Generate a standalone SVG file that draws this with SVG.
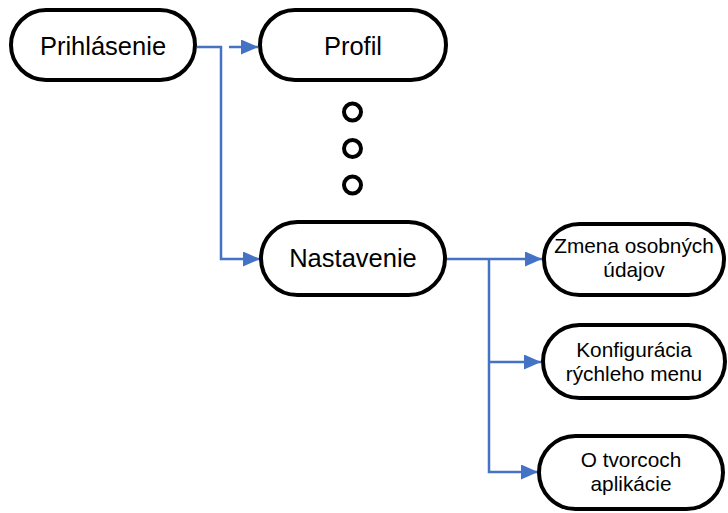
<svg xmlns="http://www.w3.org/2000/svg" width="728" height="513" viewBox="0 0 728 513">
  <defs>
    <marker id="arrow" markerWidth="17" markerHeight="15" refX="17" refY="7.5" orient="auto" markerUnits="userSpaceOnUse">
      <path d="M0,0 L17,7.5 L0,15 Z" fill="#4472C4"/>
    </marker>
    <style>
      .node { fill: #ffffff; stroke: #000000; stroke-width: 4; }
      .dot { fill: #ffffff; stroke: #000000; stroke-width: 4; }
      .link { fill: none; stroke: #4472C4; stroke-width: 2.5; }
      .big { font-family: "Liberation Sans", Arial, sans-serif; font-size: 25.5px; fill: #000; text-anchor: middle; }
      .small { font-family: "Liberation Sans", Arial, sans-serif; font-size: 20.8px; fill: #000; text-anchor: middle; }
    </style>
  </defs>
  <rect width="728" height="513" fill="#ffffff"/>

  <g id="connectors">
    <path class="link" d="M197,47 H221 V259 H260" marker-end="url(#arrow)"/>
    <path class="link" d="M229,47 H258" marker-end="url(#arrow)"/>
    <path class="link" d="M447,259 H542" marker-end="url(#arrow)"/>
    <path class="link" d="M489,259 V472 H538" marker-end="url(#arrow)"/>
    <path class="link" d="M489,362 H541" marker-end="url(#arrow)"/>
  </g>

  <g id="prihlasenie">
    <rect class="node" x="11" y="10" width="184" height="70" rx="35"/>
    <text class="big" x="103" y="55">Prihlásenie</text>
  </g>

  <g id="profil">
    <rect class="node" x="260" y="10" width="186" height="70" rx="35"/>
    <text class="big" x="353" y="55">Profil</text>
  </g>

  <g id="ellipsis">
    <circle class="dot" cx="352.5" cy="112" r="8.5"/>
    <circle class="dot" cx="352.5" cy="148.5" r="8.5"/>
    <circle class="dot" cx="352.5" cy="185" r="8.5"/>
  </g>

  <g id="nastavenie">
    <rect class="node" x="261" y="222" width="184" height="73" rx="36.5"/>
    <text class="big" x="353" y="267">Nastavenie</text>
  </g>

  <g id="zmena">
    <rect class="node" x="544" y="224" width="180" height="71" rx="35.5"/>
    <text class="small" x="634" y="253">Zmena osobných</text>
    <text class="small" x="634" y="277">údajov</text>
  </g>

  <g id="konfiguracia">
    <rect class="node" x="543" y="325" width="182" height="73" rx="36.5"/>
    <text class="small" x="634" y="357">Konfigurácia</text>
    <text class="small" x="634" y="381">rýchleho menu</text>
  </g>

  <g id="tvorcovia">
    <rect class="node" x="539" y="436" width="184" height="73" rx="36.5"/>
    <text class="small" x="631" y="467">O tvorcoch</text>
    <text class="small" x="631" y="491">aplikácie</text>
  </g>
</svg>
